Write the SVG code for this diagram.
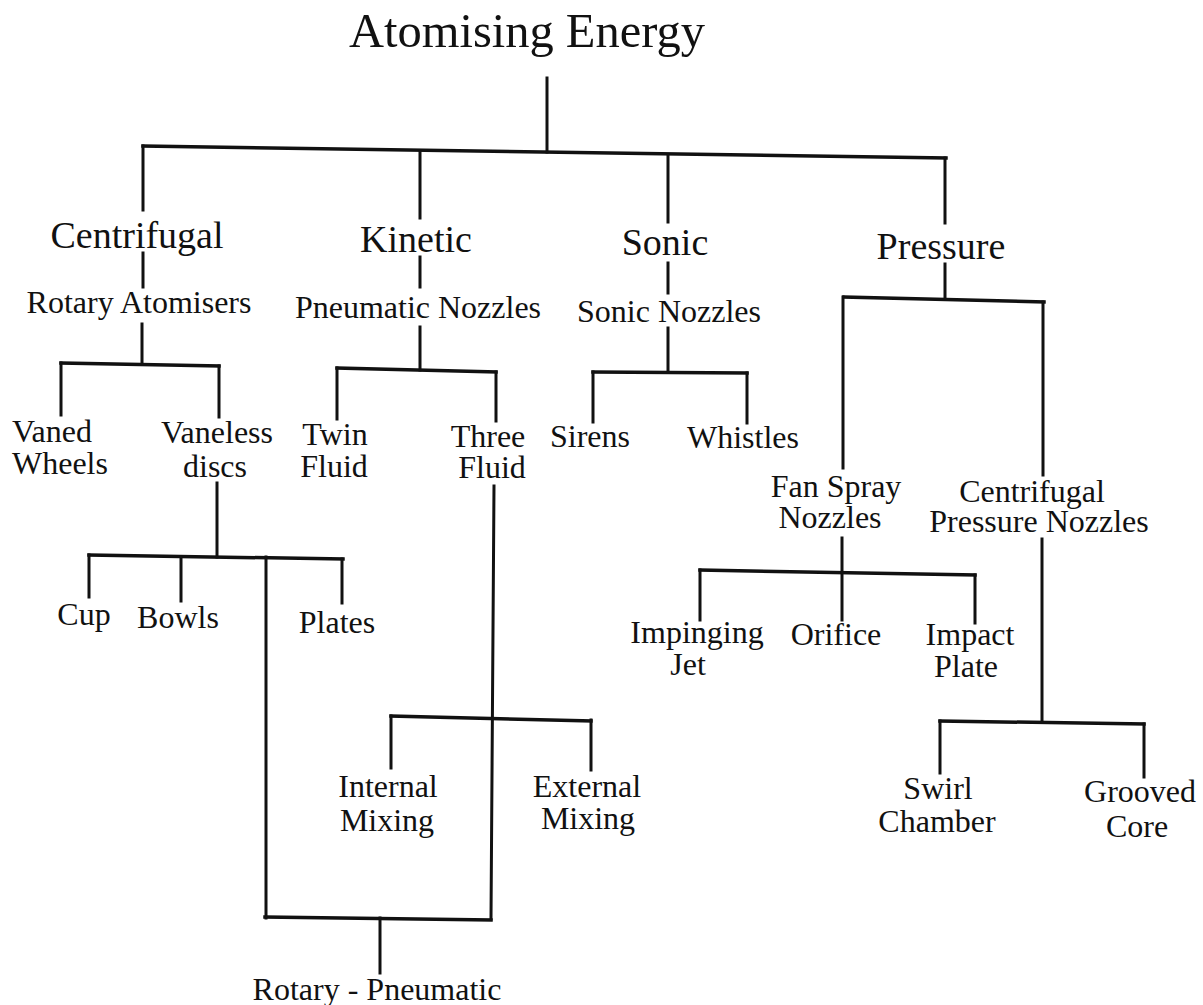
<svg xmlns="http://www.w3.org/2000/svg" width="1203" height="1005" viewBox="0 0 1203 1005">
<style>
text{font-family:"Liberation Serif","Times New Roman",serif;fill:#111;text-anchor:middle}
.t0{font-size:48.5px}
.t1{font-size:38px}
.t2{font-size:32px}
.c path{fill:none;stroke:#111;stroke-width:3;stroke-linecap:square}
.c .h{stroke-width:3.5}
</style>
<rect width="1203" height="1005" fill="#fff"/>
<g class="c" id="connectors">
<path d="M547 78V152"/>
<path class="h" d="M143 146L946 158"/>
<path d="M143 146V210M143 253V287M142 324V364"/>
<path d="M420 152V218M420 257V287M420 327V370"/>
<path d="M668 155V222M668 263V293M668 328V372"/>
<path d="M945 158V223M945 264V299"/>
<path class="h" d="M844 297L1044 302"/>
<path d="M843 297V468M1043 302V475"/>
<path class="h" d="M61 363L219 366"/>
<path d="M61 363V415M219 366V417"/>
<path class="h" d="M337 368L496 372"/>
<path d="M337 368V419M496 372V421"/>
<path class="h" d="M593 372L747 373"/>
<path d="M593 372V422M747 373V423"/>
<path d="M217 483V557"/>
<path class="h" d="M89 555L343 559"/>
<path d="M89 555V597M181 557V601M266 557V918M342 559V603"/>
<path d="M494 486L491 919"/>
<path class="h" d="M265 917L491 920"/>
<path d="M380 918V973"/>
<path class="h" d="M391 716L591 721"/>
<path d="M391 716V768M591 720V770"/>
<path d="M842 538V620"/>
<path class="h" d="M700 570L975 575"/>
<path d="M700 570V620M975 575V623"/>
<path d="M1042 539V722"/>
<path class="h" d="M940 721L1144 724"/>
<path d="M940 721V773M1144 724V777"/>
</g>
<g id="atomising-energy"><text class="t0" x="527" y="47">Atomising Energy</text></g>
<g id="centrifugal"><text class="t1" x="137" y="248">Centrifugal</text></g>
<g id="kinetic"><text class="t1" x="416" y="252">Kinetic</text></g>
<g id="sonic"><text class="t1" x="665" y="255">Sonic</text></g>
<g id="pressure"><text class="t1" x="941" y="259">Pressure</text></g>
<g id="rotary-atomisers"><text class="t2" x="139" y="313">Rotary Atomisers</text></g>
<g id="pneumatic-nozzles"><text class="t2" x="418" y="318">Pneumatic Nozzles</text></g>
<g id="sonic-nozzles"><text class="t2" x="669" y="322">Sonic Nozzles</text></g>
<g id="vaned-wheels"><text class="t2" style="text-anchor:start"><tspan x="12" y="442">Vaned</tspan><tspan x="12" y="474">Wheels</tspan></text></g>
<g id="vaneless-discs"><text class="t2"><tspan x="217" y="443">Vaneless</tspan><tspan x="215" y="477">discs</tspan></text></g>
<g id="twin-fluid"><text class="t2"><tspan x="335" y="445">Twin</tspan><tspan x="334" y="477">Fluid</tspan></text></g>
<g id="three-fluid"><text class="t2"><tspan x="488" y="447">Three</tspan><tspan x="492" y="478">Fluid</tspan></text></g>
<g id="sirens"><text class="t2" x="590" y="447">Sirens</text></g>
<g id="whistles"><text class="t2" x="743" y="448">Whistles</text></g>
<g id="fan-spray-nozzles"><text class="t2"><tspan x="836" y="497">Fan Spray</tspan><tspan x="830" y="528">Nozzles</tspan></text></g>
<g id="centrifugal-pressure-nozzles"><text class="t2"><tspan x="1032" y="502">Centrifugal</tspan><tspan x="1039" y="532">Pressure Nozzles</tspan></text></g>
<g id="cup"><text class="t2" x="84" y="625">Cup</text></g>
<g id="bowls"><text class="t2" x="178" y="628">Bowls</text></g>
<g id="plates"><text class="t2" x="337" y="633">Plates</text></g>
<g id="impinging-jet"><text class="t2"><tspan x="697" y="643">Impinging</tspan><tspan x="688" y="675">Jet</tspan></text></g>
<g id="orifice"><text class="t2" x="836" y="645">Orifice</text></g>
<g id="impact-plate"><text class="t2"><tspan x="970" y="645">Impact</tspan><tspan x="966" y="677">Plate</tspan></text></g>
<g id="internal-mixing"><text class="t2"><tspan x="388" y="797">Internal</tspan><tspan x="387" y="831">Mixing</tspan></text></g>
<g id="external-mixing"><text class="t2"><tspan x="587" y="797">External</tspan><tspan x="588" y="829">Mixing</tspan></text></g>
<g id="swirl-chamber"><text class="t2"><tspan x="938" y="799">Swirl</tspan><tspan x="937" y="832">Chamber</tspan></text></g>
<g id="grooved-core"><text class="t2"><tspan x="1140" y="802">Grooved</tspan><tspan x="1137" y="837">Core</tspan></text></g>
<g id="rotary-pneumatic"><text class="t2" x="377" y="1000">Rotary - Pneumatic</text></g>
</svg>
